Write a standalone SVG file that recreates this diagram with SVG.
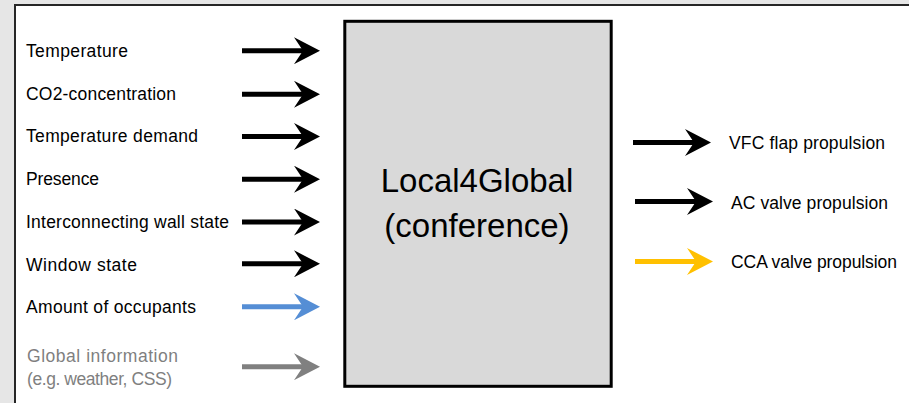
<svg xmlns="http://www.w3.org/2000/svg" width="909" height="403" viewBox="0 0 909 403">
  <style>
    .lbl { font-family: "Liberation Sans", Arial, sans-serif; font-size: 17.5px; fill: #000; }
    .muted { fill: #7F7F7F; }
    .title { font-family: "Liberation Sans", Arial, sans-serif; font-size: 33px; fill: #000; text-anchor: middle; }
    .shaft { stroke-width: 5; fill: none; }
    .k { stroke: #000; marker-end: url(#headK); }
    .b { stroke: #558ED5; marker-end: url(#headB); }
    .g { stroke: #808080; marker-end: url(#headG); }
    .y { stroke: #FFC000; marker-end: url(#headY); }
  </style>
  <defs>
    <marker id="headK" markerUnits="userSpaceOnUse" markerWidth="26" markerHeight="27" viewBox="0 0 26 27" refX="12" refY="13.5" orient="auto">
      <path d="M0,0 L26,13.5 L0,27 L9,13.5 Z" fill="#000"/>
    </marker>
    <marker id="headB" markerUnits="userSpaceOnUse" markerWidth="26" markerHeight="27" viewBox="0 0 26 27" refX="12" refY="13.5" orient="auto">
      <path d="M0,0 L26,13.5 L0,27 L9,13.5 Z" fill="#558ED5"/>
    </marker>
    <marker id="headG" markerUnits="userSpaceOnUse" markerWidth="26" markerHeight="27" viewBox="0 0 26 27" refX="12" refY="13.5" orient="auto">
      <path d="M0,0 L26,13.5 L0,27 L9,13.5 Z" fill="#808080"/>
    </marker>
    <marker id="headY" markerUnits="userSpaceOnUse" markerWidth="26" markerHeight="27" viewBox="0 0 26 27" refX="12" refY="13.5" orient="auto">
      <path d="M0,0 L26,13.5 L0,27 L9,13.5 Z" fill="#FFC000"/>
    </marker>
  </defs>

  <!-- page background and slide frame -->
  <rect x="0" y="0" width="909" height="403" fill="#E6E6E6"/>
  <rect x="15" y="5" width="920" height="420" fill="#FFFFFF" stroke="#262626" stroke-width="2"/>

  <!-- central block -->
  <g id="local4global">
    <rect x="344.8" y="21.3" width="266.4" height="365" fill="#D9D9D9" stroke="#000" stroke-width="3"/>
    <text class="title" x="477" y="192">Local4Global</text>
    <text class="title" x="477" y="237">(conference)</text>
  </g>

  <!-- inputs -->
  <g id="in-temperature"><text class="lbl" x="26" y="57" textLength="102">Temperature</text></g>
  <g id="in-co2"><text class="lbl" x="26" y="100" textLength="150">CO2-concentration</text></g>
  <g id="in-temp-demand"><text class="lbl" x="26" y="142" textLength="172">Temperature demand</text></g>
  <g id="in-presence"><text class="lbl" x="26" y="185" textLength="73">Presence</text></g>
  <g id="in-wall"><text class="lbl" x="26" y="228" textLength="203">Interconnecting wall state</text></g>
  <g id="in-window"><text class="lbl" x="26" y="271" textLength="111">Window state</text></g>
  <g id="in-occupants"><text class="lbl" x="26" y="313" textLength="170">Amount of occupants</text></g>
  <g id="in-global">
    <text class="lbl muted" x="27" y="362" textLength="151">Global information</text>
    <text class="lbl muted" x="27" y="385" textLength="145">(e.g. weather, CSS)</text>
  </g>

  <!-- outputs -->
  <g id="out-vfc"><text class="lbl" x="729" y="149" textLength="156">VFC flap propulsion</text></g>
  <g id="out-ac"><text class="lbl" x="731" y="209" textLength="157">AC valve propulsion</text></g>
  <g id="out-cca"><text class="lbl" x="731" y="268" textLength="166">CCA valve propulsion</text></g>

  <!-- connectors -->
  <g id="connectors">
    <line class="shaft k" x1="242" y1="50.7" x2="306" y2="50.7"/>
    <line class="shaft k" x1="242" y1="94.3" x2="306" y2="94.3"/>
    <line class="shaft k" x1="242" y1="136.5" x2="306" y2="136.5"/>
    <line class="shaft k" x1="242" y1="179.2" x2="306" y2="179.2"/>
    <line class="shaft k" x1="242" y1="222" x2="306" y2="222"/>
    <line class="shaft k" x1="242" y1="263.8" x2="306" y2="263.8"/>
    <line class="shaft b" x1="242" y1="306.8" x2="306" y2="306.8"/>
    <line class="shaft g" x1="242" y1="366.7" x2="306" y2="366.7"/>

    <line class="shaft k" x1="633" y1="142.5" x2="697" y2="142.5"/>
    <line class="shaft k" x1="635" y1="201.5" x2="699" y2="201.5"/>
    <line class="shaft y" x1="635" y1="261.5" x2="699" y2="261.5"/>
  </g>
</svg>
